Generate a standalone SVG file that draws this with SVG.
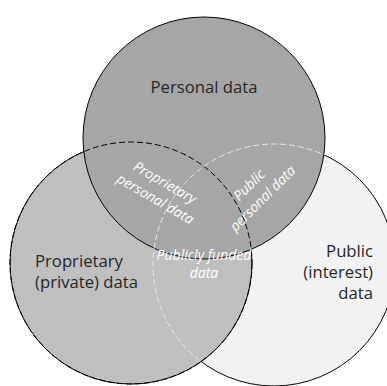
<svg xmlns="http://www.w3.org/2000/svg" width="387" height="386" viewBox="0 0 387 386">
<style>
.c{stroke:#000;stroke-width:1}
.lbl{font-family:"Open Sans","Noto Sans",sans-serif;font-size:16.7px;fill:#262626}
.ov{font-family:"Open Sans","Noto Sans",sans-serif;font-size:14px;font-style:italic;fill:#fff}
</style>
<defs>
<clipPath id="lt">
<circle cx="131" cy="263" r="121"/>
<circle cx="204" cy="138" r="121"/>
</clipPath>
</defs>
<rect width="387" height="386" fill="#fff"/>
<g id="public">
<circle class="c" cx="274" cy="265" r="121" fill="#f2f2f2"/>
</g>
<g id="proprietary">
<circle class="c" cx="131" cy="263" r="121" fill="#bfbfbf"/>
</g>
<g id="personal">
<circle class="c" cx="204" cy="138" r="121" fill="#a6a6a6"/>
</g>
<g id="connectors">
<circle cx="131" cy="263" r="121" fill="none" stroke="#000" stroke-width="1" stroke-dasharray="6 3"/>
<circle cx="274" cy="265" r="121" fill="none" stroke="#e6e6e6" stroke-width="1" stroke-dasharray="6 3" clip-path="url(#lt)"/>
</g>
<g id="labels">
<text class="lbl" x="204" y="93" text-anchor="middle">Personal data</text>
<text class="lbl" x="35" y="267">Proprietary</text>
<text class="lbl" x="35" y="288">(private) data</text>
<text class="lbl" x="373" y="257" text-anchor="end">Public</text>
<text class="lbl" x="373" y="278" text-anchor="end">(interest)</text>
<text class="lbl" x="373" y="299" text-anchor="end">data</text>
<text class="ov" x="204" y="260" text-anchor="middle">Publicly funded</text>
<text class="ov" x="204" y="278" text-anchor="middle">data</text>
<g transform="translate(160,191) rotate(30)">
<text class="ov" x="0" y="-5" text-anchor="middle">Proprietary</text>
<text class="ov" x="0" y="14" text-anchor="middle">personal data</text>
</g>
<g transform="translate(256,192) rotate(-45)">
<text class="ov" x="0" y="-5" text-anchor="middle">Public</text>
<text class="ov" x="0" y="14" text-anchor="middle">personal data</text>
</g>
</g>
</svg>
